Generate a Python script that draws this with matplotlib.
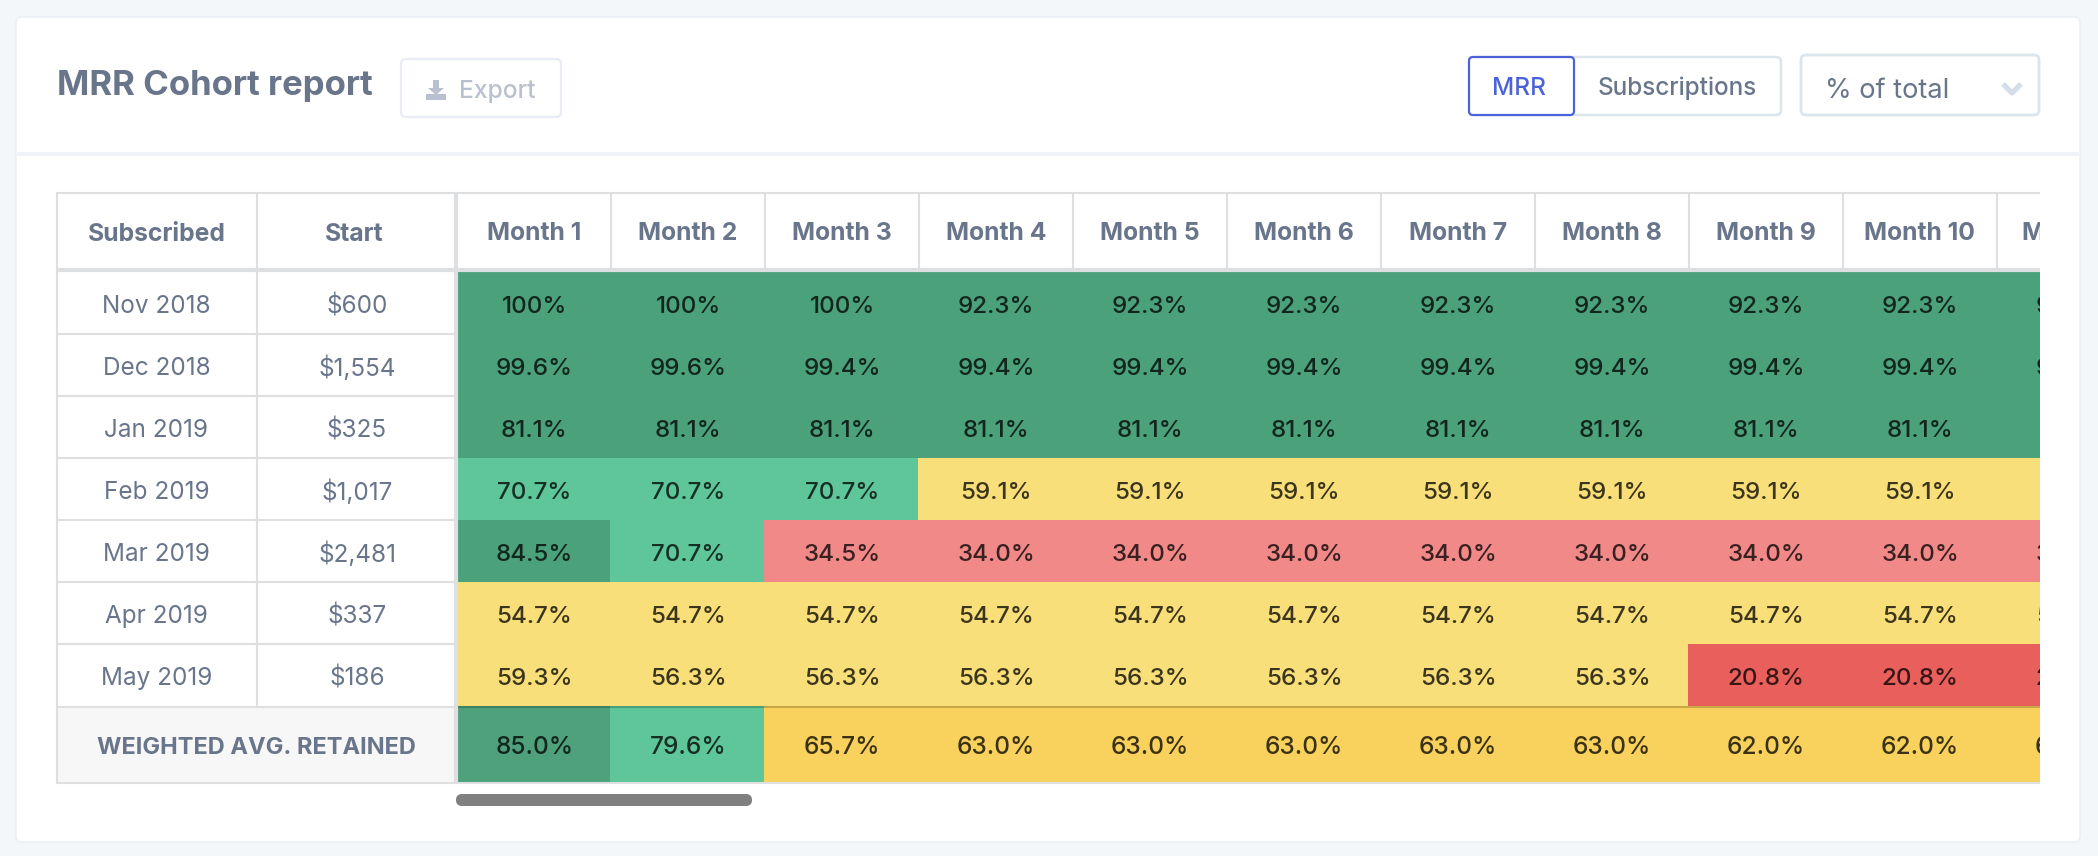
"""
MRR cohort report: retention table with coloured cells, clipped at the right like a scroll view.
"""

import numpy as np
import matplotlib
matplotlib.use('Agg')
import matplotlib.pyplot as plt
from matplotlib.colors import BoundaryNorm, ListedColormap
from matplotlib.patches import FancyBboxPatch, Polygon, Rectangle

plt.rcParams.update({
    'font.family': ['Inter', 'DejaVu Sans'],
})

# ── data ──────────────────────────────────────────────────────────────────
SUBSCRIBED = ['Nov 2018', 'Dec 2018', 'Jan 2019', 'Feb 2019', 'Mar 2019', 'Apr 2019', 'May 2019']
START      = ['$600', '$1,554', '$325', '$1,017', '$2,481', '$337', '$186']
MONTHS     = ['Month 1', 'Month 2', 'Month 3', 'Month 4', 'Month 5', 'Month 6',
              'Month 7', 'Month 8', 'Month 9', 'Month 10', 'Month 11']

NOV_2018 = [100, 100, 100, 92.3, 92.3, 92.3, 92.3, 92.3, 92.3, 92.3, 92.3]
DEC_2018 = [99.6, 99.6, 99.4, 99.4, 99.4, 99.4, 99.4, 99.4, 99.4, 99.4, 99.4]
JAN_2019 = [81.1, 81.1, 81.1, 81.1, 81.1, 81.1, 81.1, 81.1, 81.1, 81.1, 81.1]
FEB_2019 = [70.7, 70.7, 70.7, 59.1, 59.1, 59.1, 59.1, 59.1, 59.1, 59.1, 59.1]
MAR_2019 = [84.5, 70.7, 34.5, 34.0, 34.0, 34.0, 34.0, 34.0, 34.0, 34.0, 34.0]
APR_2019 = [54.7, 54.7, 54.7, 54.7, 54.7, 54.7, 54.7, 54.7, 54.7, 54.7, 54.7]
MAY_2019 = [59.3, 56.3, 56.3, 56.3, 56.3, 56.3, 56.3, 56.3, 20.8, 20.8, 20.8]
WEIGHTED = [85.0, 79.6, 65.7, 63.0, 63.0, 63.0, 63.0, 63.0, 62.0, 62.0, 62.0]

# ── style ─────────────────────────────────────────────────────────────────
W, H = 2098, 856
BG, CARD, RULE = '#F3F7FA', '#FFFFFF', '#DEDFE1'
SLATE, BLUE, FAINT = '#68758B', '#4A63D8', '#B9C0D0'
INK = (0, 0, 0, 0.76)

LEVELS      = [0, 25, 50, 70, 80, 101]
CELL_COLORS = ['#E95F5B', '#F28989', '#F9DF79', '#5EC699', '#4BA17A']
AVG_COLORS  = ['#E95F5B', '#F28989', '#F8D25C', '#5EC699', '#4EA17B']

# table geometry, pixels
TBL_L, TBL_R, TBL_T = 56, 2040, 192
COL_1, COL_2 = 257, 458
HEAD_B, ROW_H, AVG_T, AVG_B = 272, 62, 706, 782
MONTH_W = 154
CELL_L = 456  # cells run under the thick rule, so they sit 2 px left of the header


def px_axes(fig, l, t, r, b):
    ax = fig.add_axes([l / W, 1 - b / H, (r - l) / W, (b - t) / H])
    ax.axis('off')
    return ax


def month_axes(fig, l, t, b):
    ax = px_axes(fig, l, t, TBL_R, b)
    ax.set_xlim(0, (TBL_R - l) / MONTH_W)
    return ax


def pct(v):
    return '100%' if v == 100 else f'{v:.1f}%'


def draw_cells(ax, values, colors, text_y, size):
    values = np.atleast_2d(values)
    norm = BoundaryNorm(LEVELS, len(colors))
    ax.pcolormesh(values, cmap=ListedColormap(colors), norm=norm)
    ax.set_xlim(0, (TBL_R - CELL_L) / MONTH_W)
    ax.set_ylim(values.shape[0], 0)
    for i, row in enumerate(values):
        for j, v in enumerate(row):
            ax.text(j + 0.508, i + text_y, pct(v), ha='center', va='center', fontsize=size,
                    fontweight='medium', color=INK, clip_on=True)


def draw_chrome(ax):
    ax.add_patch(FancyBboxPatch((16, 17), 2064, 825, boxstyle='round,pad=0,rounding_size=6',
                                fc=CARD, ec='#E9EEF2', lw=1))
    ax.add_patch(Rectangle((16, 152), 2064, 4, fc='#EFF2F8', ec='none'))

    ax.text(57, 86, 'MRR Cohort report', fontsize=25, fontweight='bold', color=SLATE,
            ha='left', va='center')

    # export button
    ax.add_patch(FancyBboxPatch((401, 59), 160, 58, boxstyle='round,pad=0,rounding_size=5',
                                fc='white', ec='#E8ECF5', lw=1.6))
    ax.add_patch(Polygon([(433, 80), (439, 80), (439, 88), (444, 88), (436, 95), (428, 88), (433, 88)],
                         fc=FAINT, ec='none'))
    ax.add_patch(Rectangle((426, 94), 20, 6, fc=FAINT, ec='none'))
    ax.text(459, 91, 'Export', fontsize=17.7, fontweight='medium', color=FAINT, ha='left', va='center')

    # toggle and dropdown
    ax.add_patch(FancyBboxPatch((1470, 57), 311, 58, boxstyle='round,pad=0,rounding_size=5',
                                fc='white', ec='#DCE4EC', lw=1.8))
    ax.add_patch(FancyBboxPatch((1469, 57), 105, 58, boxstyle='round,pad=0,rounding_size=4',
                                fc='white', ec=BLUE, lw=1.6))
    ax.text(1519, 88, 'MRR', fontsize=17.5, fontweight='medium', color=BLUE, ha='center', va='center')
    ax.text(1677, 88, 'Subscriptions', fontsize=17.5, fontweight='medium', color=SLATE,
            ha='center', va='center')
    ax.add_patch(FancyBboxPatch((1801, 55), 238, 60, boxstyle='round,pad=0,rounding_size=5',
                                fc='white', ec='#DCE4EC', lw=2))
    ax.text(1825, 91, '% of total', fontsize=19.6, color=SLATE, ha='left', va='center')
    ax.plot([2003, 2012, 2021], [84, 93, 84], color='#D3DEE9', lw=3.8, solid_capstyle='butt')

    # scrollbar
    ax.add_patch(FancyBboxPatch((456, 794), 296, 12, boxstyle='round,pad=0,rounding_size=6',
                                fc='#808080', ec='none'))


def draw_frozen_columns(ax):
    ax.add_patch(Rectangle((TBL_L, AVG_T), COL_2 - TBL_L, AVG_B - AVG_T, fc='#F7F7F7', ec='none'))

    ax.text((TBL_L + COL_1) / 2, 234, 'Subscribed', fontsize=17.8, fontweight='bold', color=SLATE,
            ha='center', va='center')
    ax.text(354, 234, 'Start', fontsize=17.8, fontweight='bold', color=SLATE,
            ha='center', va='center')
    for i, (name, start) in enumerate(zip(SUBSCRIBED, START)):
        y = HEAD_B + ROW_H * (i + 0.5) + 3.5
        ax.text((TBL_L + COL_1) / 2, y, name, fontsize=17.5, color=SLATE, ha='center', va='center')
        ax.text(357, y, start, fontsize=17.5, color=SLATE, ha='center', va='center')
    ax.text((TBL_L + COL_2) / 2 - 1, 748, 'WEIGHTED AVG. RETAINED', fontsize=17, fontweight='bold',
            color=SLATE, ha='center', va='center')


def draw_rules(ax):
    kw = dict(color=RULE, lw=1.5, solid_capstyle='butt')
    # outer frame and horizontal rules
    ax.plot([TBL_L, TBL_R], [TBL_T + 1, TBL_T + 1], **kw)
    ax.plot([TBL_L, TBL_R], [AVG_B + 1, AVG_B + 1], **kw)
    ax.plot([TBL_L + 1, TBL_L + 1], [TBL_T, AVG_B + 2], **kw)
    ax.plot([COL_1, COL_1], [TBL_T, AVG_T], **kw)
    for i in range(1, 7):
        ax.plot([TBL_L, COL_2 - 4], [HEAD_B + ROW_H * i] * 2, **kw)
    ax.plot([TBL_L, COL_2 - 4], [AVG_T + 1, AVG_T + 1], **kw)
    # thick rules around the frozen part
    ax.plot([TBL_L, TBL_R], [HEAD_B - 2, HEAD_B - 2], color=RULE, lw=3, solid_capstyle='butt')
    ax.plot([COL_2 - 2, COL_2 - 2], [TBL_T, AVG_B], color=RULE, lw=3, solid_capstyle='butt')
    for k in range(1, len(MONTHS)):
        x = COL_2 + MONTH_W * k - 1
        if x < TBL_R:
            ax.plot([x, x], [TBL_T, HEAD_B - 3], **kw)
    # darker seam on top of the coloured average row
    ax.plot([COL_2, TBL_R], [AVG_T + 1, AVG_T + 1], color=(0, 0, 0, 0.2), lw=1.5, solid_capstyle='butt')


def make_figure():
    fig = plt.figure(figsize=(W / 100, H / 100), dpi=100, facecolor=BG)

    base = px_axes(fig, 0, 0, W, H)
    base.set_xlim(0, W)
    base.set_ylim(H, 0)
    draw_chrome(base)
    draw_frozen_columns(base)

    # month headers
    head = month_axes(fig, COL_2, TBL_T, HEAD_B)
    head.set_ylim(1, 0)
    for j, name in enumerate(MONTHS):
        head.text(j + 0.493, 0.52, name, fontsize=17.8, fontweight='bold', color=SLATE,
                  ha='center', va='center', clip_on=True)

    # cohort cells
    cells = month_axes(fig, CELL_L, HEAD_B, AVG_T)
    draw_cells(cells, [NOV_2018, DEC_2018, JAN_2019, FEB_2019, MAR_2019, APR_2019, MAY_2019],
               CELL_COLORS, 0.56, 17.4)

    # weighted average row
    avg = month_axes(fig, CELL_L, AVG_T, AVG_B)
    draw_cells(avg, [WEIGHTED], AVG_COLORS, 0.54, 17.6)

    # rules go above everything
    top = px_axes(fig, 0, 0, W, H)
    top.set_xlim(0, W)
    top.set_ylim(H, 0)
    top.patch.set_alpha(0)
    draw_rules(top)

    return fig


if __name__ == '__main__':
    fig = make_figure()
    fig.savefig('out.png', dpi=100, facecolor=BG)
    plt.close(fig)
